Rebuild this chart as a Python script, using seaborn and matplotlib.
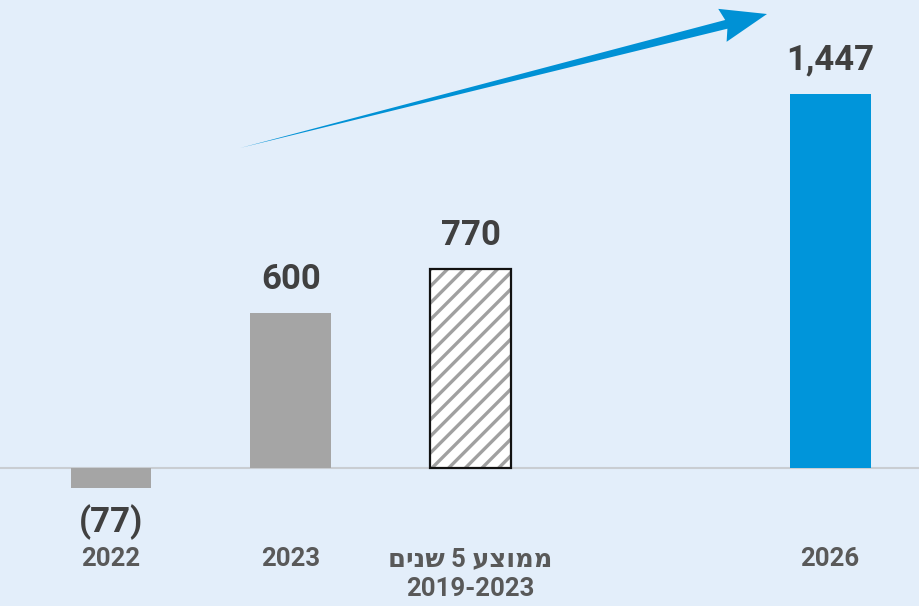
import matplotlib
matplotlib.use("Agg")
import matplotlib.pyplot as plt
import seaborn as sns
import pandas as pd
import numpy as np
from matplotlib.patches import Polygon, Rectangle

# ---- data ----
categories = ["2022", "2023", "avg", "gap", "2026"]
values = [-77, 600, 770, np.nan, 1447]
value_labels = ["(77)", "600", "770", "", "1,447"]
# Hebrew label given in visual (left-to-right) order for matplotlib
tick_labels = ["2022", "2023", "םינש 5 עצוממ\n2019-2023", "", "2026"]
bar_colors = {"2022": "#A5A5A5", "2023": "#A5A5A5", "avg": "#FFFFFF",
              "gap": "#FFFFFF", "2026": "#0095DA"}

BG = "#E3EEFA"
sns.set_theme(style="white")
plt.rcParams["font.family"] = ["Roboto", "DejaVu Sans"]
plt.rcParams["hatch.linewidth"] = 2.4
plt.rcParams["hatch.color"] = "#A0A0A0"

W, H = 920, 606
fig = plt.figure(figsize=(W / 100, H / 100), dpi=100, facecolor=BG)
ax = fig.add_axes([0, 0, 1, 1], facecolor=BG)

df = pd.DataFrame({"cat": categories, "val": values}).dropna()
sns.barplot(data=df, x="cat", y="val", hue="cat", order=categories,
            hue_order=[c for c in categories if c in df["cat"].values],
            palette=bar_colors, width=0.45, saturation=1, legend=False,
            ax=ax, zorder=3, linewidth=0)

ax.set_xlim(-0.6175, 4.50)
ax.set_ylim(-534, 1812)
ax.axhline(0, color="#C9CDD2", lw=1.5, zorder=2)

# hatched average bar
for p in ax.patches:
    x0 = p.get_x() + p.get_width() / 2
    if abs(x0 - 2) < 0.01:
        p.set_hatch("//")
        p.set_edgecolor("#A0A0A0")
        p.set_linewidth(0)
        ax.add_patch(Rectangle((p.get_x(), p.get_y()), p.get_width(), p.get_height(),
                               fill=False, edgecolor="#111111", lw=1.6, zorder=4))

# value labels
for i, (v, lab) in enumerate(zip(values, value_labels)):
    if not lab:
        continue
    off = 24.5 if v >= 0 else -24.5
    ax.annotate(lab, (i, v), xytext=(0, off), textcoords="offset points",
                ha="center", va="center", fontsize=25, fontweight="bold",
                color="#404040", zorder=5)

# category labels
trans = ax.get_xaxis_transform()
for i, lab in enumerate(tick_labels):
    if not lab:
        continue
    ax.text(i, 1 - 547 / H, lab, transform=trans, ha="center", va="top",
            fontsize=18.5, fontweight="bold", color="#595959",
            linespacing=1.32)

ax.set_xticks([])
ax.set_yticks([])
ax.set_xlabel("")
ax.set_ylabel("")
for s in ax.spines.values():
    s.set_visible(False)

# decorative trend arrow (pixel geometry -> axes fraction)
tail = np.array([240.0, 148.0])
tip = np.array([767.0, 14.0])
d = tip - tail
L = np.linalg.norm(d)
u = d / L
n = np.array([-u[1], u[0]])
head_len, head_half, shaft_half = 42.0, 17.0, 4.5
base = tip - u * head_len
pts = [tail,
       base + n * shaft_half, base + n * head_half - u * 4,
       tip,
       base - n * head_half - u * 4, base - n * shaft_half,
       tail]
pts = [(x / W, 1 - y / H) for x, y in pts]
ax.add_patch(Polygon(pts, closed=True, facecolor="#0091D5", edgecolor="none",
                     transform=ax.transAxes, zorder=6))

fig.savefig("out.png", dpi=100, facecolor=BG)
